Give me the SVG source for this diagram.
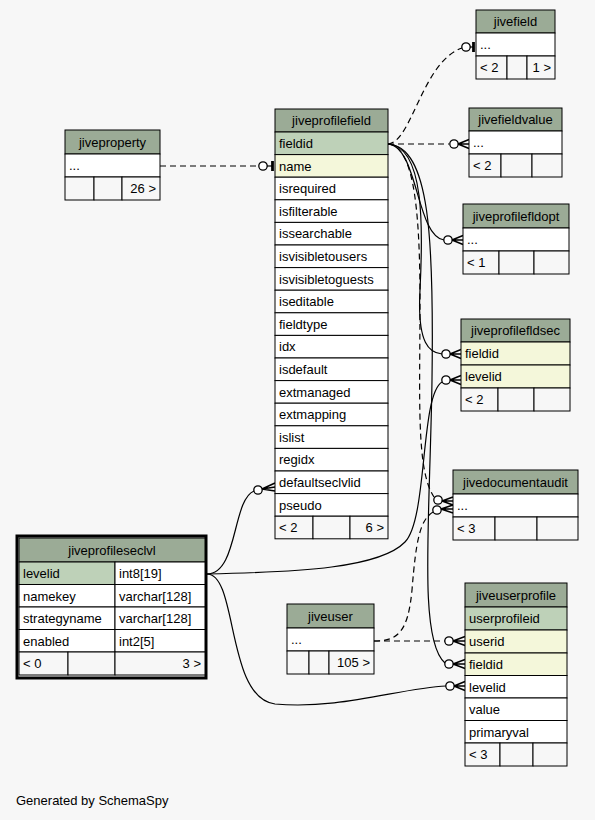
<svg xmlns="http://www.w3.org/2000/svg" width="595" height="820" viewBox="0 0 595 820">
<style>
text{font-family:"Liberation Sans",Arial,sans-serif;font-size:13px;fill:#000}
.c{text-anchor:middle}
.r{text-anchor:end}
.hd{fill:#9bab96;stroke:#000;stroke-width:1}
.pk{fill:#bed1b8;stroke:#000;stroke-width:1}
.fk{fill:#f4f7da;stroke:#000;stroke-width:1}
.w{fill:#fff;stroke:#000;stroke-width:1}
.ft{fill:#f7f7f7;stroke:#000;stroke-width:1}
.ln{fill:none;stroke:#000;stroke-width:1.2}
.ds{fill:none;stroke:#000;stroke-width:1.2;stroke-dasharray:6,4}
.ci{fill:#fff;stroke:#000;stroke-width:1.3}
.cr{fill:none;stroke:#000;stroke-width:1.5}
.bar{stroke:#000;stroke-width:2.8}
</style>
<rect width="595" height="820" fill="#f7f7f7"/>

<g id="connectors">
<!-- jiveproperty -> jiveprofilefield.name -->
<path class="ds" d="M160,166 L259,166"/>
<circle class="ci" cx="263" cy="166" r="4.2"/><path class="ln" d="M267,166 L273,166"/><line class="bar" x1="272.5" y1="161" x2="272.5" y2="171"/>
<!-- fieldid -> jivefield -->
<path class="ds" d="M388,144 C412,142 422,62 462,48"/>
<circle class="ci" cx="466" cy="47" r="4.2"/><path class="ln" d="M470,47 L474,47"/><line class="bar" x1="473.5" y1="42" x2="473.5" y2="52"/>
<!-- fieldid -> jivefieldvalue -->
<path class="ds" d="M388,144 L449,144"/>
<circle class="ci" cx="454" cy="144" r="4.2"/><path class="cr" d="M458,144 L469,139.5 M458,144 L469,144 M458,144 L469,148.5"/>
<!-- fieldid -> jiveprofilefldopt -->
<path class="ln" d="M388,144 C418,146 416,236 444,240"/>
<circle class="ci" cx="448" cy="240" r="4.2"/><path class="cr" d="M452,240 L463,235.5 M452,240 L463,240 M452,240 L463,244.5"/>
<!-- fieldid -> jiveprofilefldsec.fieldid -->
<path class="ln" d="M388,144 C425,146 423,230 420,290 C417,345 430,353 442,354"/>
<circle class="ci" cx="446" cy="354" r="4.2"/><path class="cr" d="M450,354 L461,349.5 M450,354 L461,354 M450,354 L461,358.5"/>
<!-- fieldid -> jivedocumentaudit -->
<path class="ds" d="M388,144 C412,146 420,200 420,300 C420,400 416,470 434,497"/>
<circle class="ci" cx="438" cy="500" r="4.2"/><path class="cr" d="M442,501 L453,497 M442,501 L453,501 M442,501 L453,505"/>
<!-- fieldid -> jiveuserprofile.fieldid -->
<path class="ln" d="M388,144 C430,146 434,240 432,380 C430,520 418,640 445,663"/>
<circle class="ci" cx="449" cy="664" r="4.2"/><path class="cr" d="M453,664 L465,659.5 M453,664 L465,664 M453,664 L465,668.5"/>
<!-- jiveuser -> jiveuserprofile.userid -->
<path class="ds" d="M374,641 L445,641"/>
<circle class="ci" cx="449" cy="641" r="4.2"/><path class="cr" d="M453,641 L465,636.5 M453,641 L465,641 M453,641 L465,645.5"/>
<!-- jiveuser -> jivedocumentaudit -->
<path class="ds" d="M374,641 C398,641 408,632 412,590 C416,540 420,520 433,512"/>
<circle class="ci" cx="437" cy="510" r="4.2"/><path class="cr" d="M441,509 L453,505 M441,509 L453,509 M441,509 L453,513"/>
<!-- jiveprofileseclvl -> jiveprofilefield.defaultseclvlid -->
<path class="ln" d="M207,574 C238,574 232,500 254,491"/>
<circle class="ci" cx="258" cy="490" r="4.2"/><path class="cr" d="M262,489 L275,483 M262,489 L275,487 M262,489 L275,491"/>
<!-- jiveprofileseclvl -> jiveprofilefldsec.levelid -->
<path class="ln" d="M207,574 C300,572 380,568 405,542 C428,518 420,395 442,382"/>
<circle class="ci" cx="446" cy="380" r="4.2"/><path class="cr" d="M450,380 L461,375.5 M450,380 L461,380 M450,380 L461,384.5"/>
<!-- jiveprofileseclvl -> jiveuserprofile.levelid -->
<path class="ln" d="M207,574 C238,574 226,698 275,704 C340,710 400,688 446,686"/>
<circle class="ci" cx="450" cy="686" r="4.2"/><path class="cr" d="M454,686 L465,681.5 M454,686 L465,686 M454,686 L465,690.5"/>
</g>

<g id="jiveprofilefield">
<rect class="hd" x="275" y="109" width="113" height="23"/><text class="c" x="331.5" y="125">jiveprofilefield</text>
<rect class="pk" x="275" y="132" width="113" height="22.6"/><text x="279" y="148">fieldid</text>
<rect class="fk" x="275" y="154.6" width="113" height="22.6"/><text x="279" y="170.6">name</text>
<rect class="w" x="275" y="177.2" width="113" height="22.6"/><text x="279" y="193.2">isrequired</text>
<rect class="w" x="275" y="199.8" width="113" height="22.6"/><text x="279" y="215.8">isfilterable</text>
<rect class="w" x="275" y="222.4" width="113" height="22.6"/><text x="279" y="238.4">issearchable</text>
<rect class="w" x="275" y="245" width="113" height="22.6"/><text x="279" y="261">isvisibletousers</text>
<rect class="w" x="275" y="267.6" width="113" height="22.6"/><text x="279" y="283.6">isvisibletoguests</text>
<rect class="w" x="275" y="290.2" width="113" height="22.6"/><text x="279" y="306.2">iseditable</text>
<rect class="w" x="275" y="312.8" width="113" height="22.6"/><text x="279" y="328.8">fieldtype</text>
<rect class="w" x="275" y="335.4" width="113" height="22.6"/><text x="279" y="351.4">idx</text>
<rect class="w" x="275" y="358" width="113" height="22.6"/><text x="279" y="374">isdefault</text>
<rect class="w" x="275" y="380.6" width="113" height="22.6"/><text x="279" y="396.6">extmanaged</text>
<rect class="w" x="275" y="403.2" width="113" height="22.6"/><text x="279" y="419.2">extmapping</text>
<rect class="w" x="275" y="425.8" width="113" height="22.6"/><text x="279" y="441.8">islist</text>
<rect class="w" x="275" y="448.4" width="113" height="22.6"/><text x="279" y="464.4">regidx</text>
<rect class="w" x="275" y="471" width="113" height="22.6"/><text x="279" y="487">defaultseclvlid</text>
<rect class="w" x="275" y="493.6" width="113" height="22.6"/><text x="279" y="509.6">pseudo</text>
<rect class="ft" x="275" y="516.2" width="38" height="22.6"/><rect class="ft" x="313" y="516.2" width="37" height="22.6"/><rect class="ft" x="350" y="516.2" width="38" height="22.6"/>
<text x="279" y="532.2">&lt; 2</text><text class="r" x="384" y="532.2">6 &gt;</text>
</g>

<g id="jivefield">
<rect class="hd" x="476" y="10" width="79" height="23"/><text class="c" x="515.5" y="26">jivefield</text>
<rect class="w" x="476" y="33" width="79" height="23"/><text x="480" y="49">...</text>
<rect class="ft" x="476" y="56" width="31" height="23"/><rect class="ft" x="507" y="56" width="20" height="23"/><rect class="ft" x="527" y="56" width="28" height="23"/>
<text x="480" y="72">&lt; 2</text><text class="r" x="551" y="72">1 &gt;</text>
</g>

<g id="jivefieldvalue">
<rect class="hd" x="469" y="108" width="93" height="23"/><text class="c" x="515.5" y="124">jivefieldvalue</text>
<rect class="w" x="469" y="131" width="93" height="23"/><text x="473" y="147">...</text>
<rect class="ft" x="469" y="154" width="32" height="23"/><rect class="ft" x="501" y="154" width="31" height="23"/><rect class="ft" x="532" y="154" width="30" height="23"/>
<text x="473" y="170">&lt; 2</text>
</g>

<g id="jiveprofilefldopt">
<rect class="hd" x="463" y="204" width="106" height="24"/><text class="c" x="516" y="221">jiveprofilefldopt</text>
<rect class="w" x="463" y="228" width="106" height="23"/><text x="467" y="244">...</text>
<rect class="ft" x="463" y="251" width="36" height="23"/><rect class="ft" x="499" y="251" width="35" height="23"/><rect class="ft" x="534" y="251" width="35" height="23"/>
<text x="467" y="267">&lt; 1</text>
</g>

<g id="jiveprofilefldsec">
<rect class="hd" x="461" y="319" width="109" height="23"/><text class="c" x="515.5" y="335">jiveprofilefldsec</text>
<rect class="fk" x="461" y="342" width="109" height="23"/><text x="465" y="358">fieldid</text>
<rect class="fk" x="461" y="365" width="109" height="23"/><text x="465" y="381">levelid</text>
<rect class="ft" x="461" y="388" width="37" height="23"/><rect class="ft" x="498" y="388" width="36" height="23"/><rect class="ft" x="534" y="388" width="36" height="23"/>
<text x="465" y="404">&lt; 2</text>
</g>

<g id="jivedocumentaudit">
<rect class="hd" x="453" y="470" width="125" height="24"/><text class="c" x="515.5" y="487">jivedocumentaudit</text>
<rect class="w" x="453" y="494" width="125" height="23"/><text x="457" y="510">...</text>
<rect class="ft" x="453" y="517" width="42" height="23"/><rect class="ft" x="495" y="517" width="42" height="23"/><rect class="ft" x="537" y="517" width="41" height="23"/>
<text x="457" y="533">&lt; 3</text>
</g>

<g id="jiveuserprofile">
<rect class="hd" x="465" y="583" width="102" height="24"/><text class="c" x="516" y="600">jiveuserprofile</text>
<rect class="pk" x="465" y="607" width="102" height="23"/><text x="469" y="623">userprofileid</text>
<rect class="fk" x="465" y="630" width="102" height="23"/><text x="469" y="646">userid</text>
<rect class="fk" x="465" y="653" width="102" height="22.5"/><text x="469" y="669">fieldid</text>
<rect class="w" x="465" y="675.5" width="102" height="22.5"/><text x="469" y="691.5">levelid</text>
<rect class="w" x="465" y="698" width="102" height="22.5"/><text x="469" y="714">value</text>
<rect class="w" x="465" y="720.5" width="102" height="22.5"/><text x="469" y="736.5">primaryval</text>
<rect class="ft" x="465" y="743" width="35" height="23"/><rect class="ft" x="500" y="743" width="33" height="23"/><rect class="ft" x="533" y="743" width="34" height="23"/>
<text x="469" y="759">&lt; 3</text>
</g>

<g id="jiveproperty">
<rect class="hd" x="65" y="130" width="95" height="24"/><text class="c" x="112.5" y="147">jiveproperty</text>
<rect class="w" x="65" y="154" width="95" height="23"/><text x="69" y="170">...</text>
<rect class="ft" x="65" y="177" width="29" height="23"/><rect class="ft" x="94" y="177" width="28" height="23"/><rect class="ft" x="122" y="177" width="38" height="23"/>
<text class="r" x="156" y="193">26 &gt;</text>
</g>

<g id="jiveuser">
<rect class="hd" x="287" y="604" width="87" height="24"/><text class="c" x="330.5" y="621">jiveuser</text>
<rect class="w" x="287" y="628" width="87" height="23"/><text x="291" y="644">...</text>
<rect class="ft" x="287" y="651" width="22" height="23"/><rect class="ft" x="309" y="651" width="20" height="23"/><rect class="ft" x="329" y="651" width="45" height="23"/>
<text class="r" x="370" y="667">105 &gt;</text>
</g>

<g id="jiveprofileseclvl">
<rect x="17" y="536" width="189" height="142" fill="#f7f7f7" stroke="#000" stroke-width="3"/>
<rect class="hd" x="19" y="538" width="186" height="24"/><text class="c" x="112" y="555">jiveprofileseclvl</text>
<rect class="pk" x="19" y="562" width="96" height="22.5"/><rect class="w" x="115" y="562" width="90" height="22.5"/>
<text x="23" y="578">levelid</text><text x="119" y="578">int8[19]</text>
<rect class="w" x="19" y="584.5" width="96" height="22.5"/><rect class="w" x="115" y="584.5" width="90" height="22.5"/>
<text x="23" y="600.5">namekey</text><text x="119" y="600.5">varchar[128]</text>
<rect class="w" x="19" y="607" width="96" height="22.5"/><rect class="w" x="115" y="607" width="90" height="22.5"/>
<text x="23" y="623">strategyname</text><text x="119" y="623">varchar[128]</text>
<rect class="w" x="19" y="629.5" width="96" height="22.5"/><rect class="w" x="115" y="629.5" width="90" height="22.5"/>
<text x="23" y="645.5">enabled</text><text x="119" y="645.5">int2[5]</text>
<rect class="ft" x="19" y="652" width="49" height="23"/><rect class="ft" x="68" y="652" width="47" height="23"/><rect class="ft" x="115" y="652" width="90" height="23"/>
<text x="23" y="668">&lt; 0</text><text class="r" x="201" y="668">3 &gt;</text>
</g>

<text x="16" y="805">Generated by SchemaSpy</text>
</svg>
